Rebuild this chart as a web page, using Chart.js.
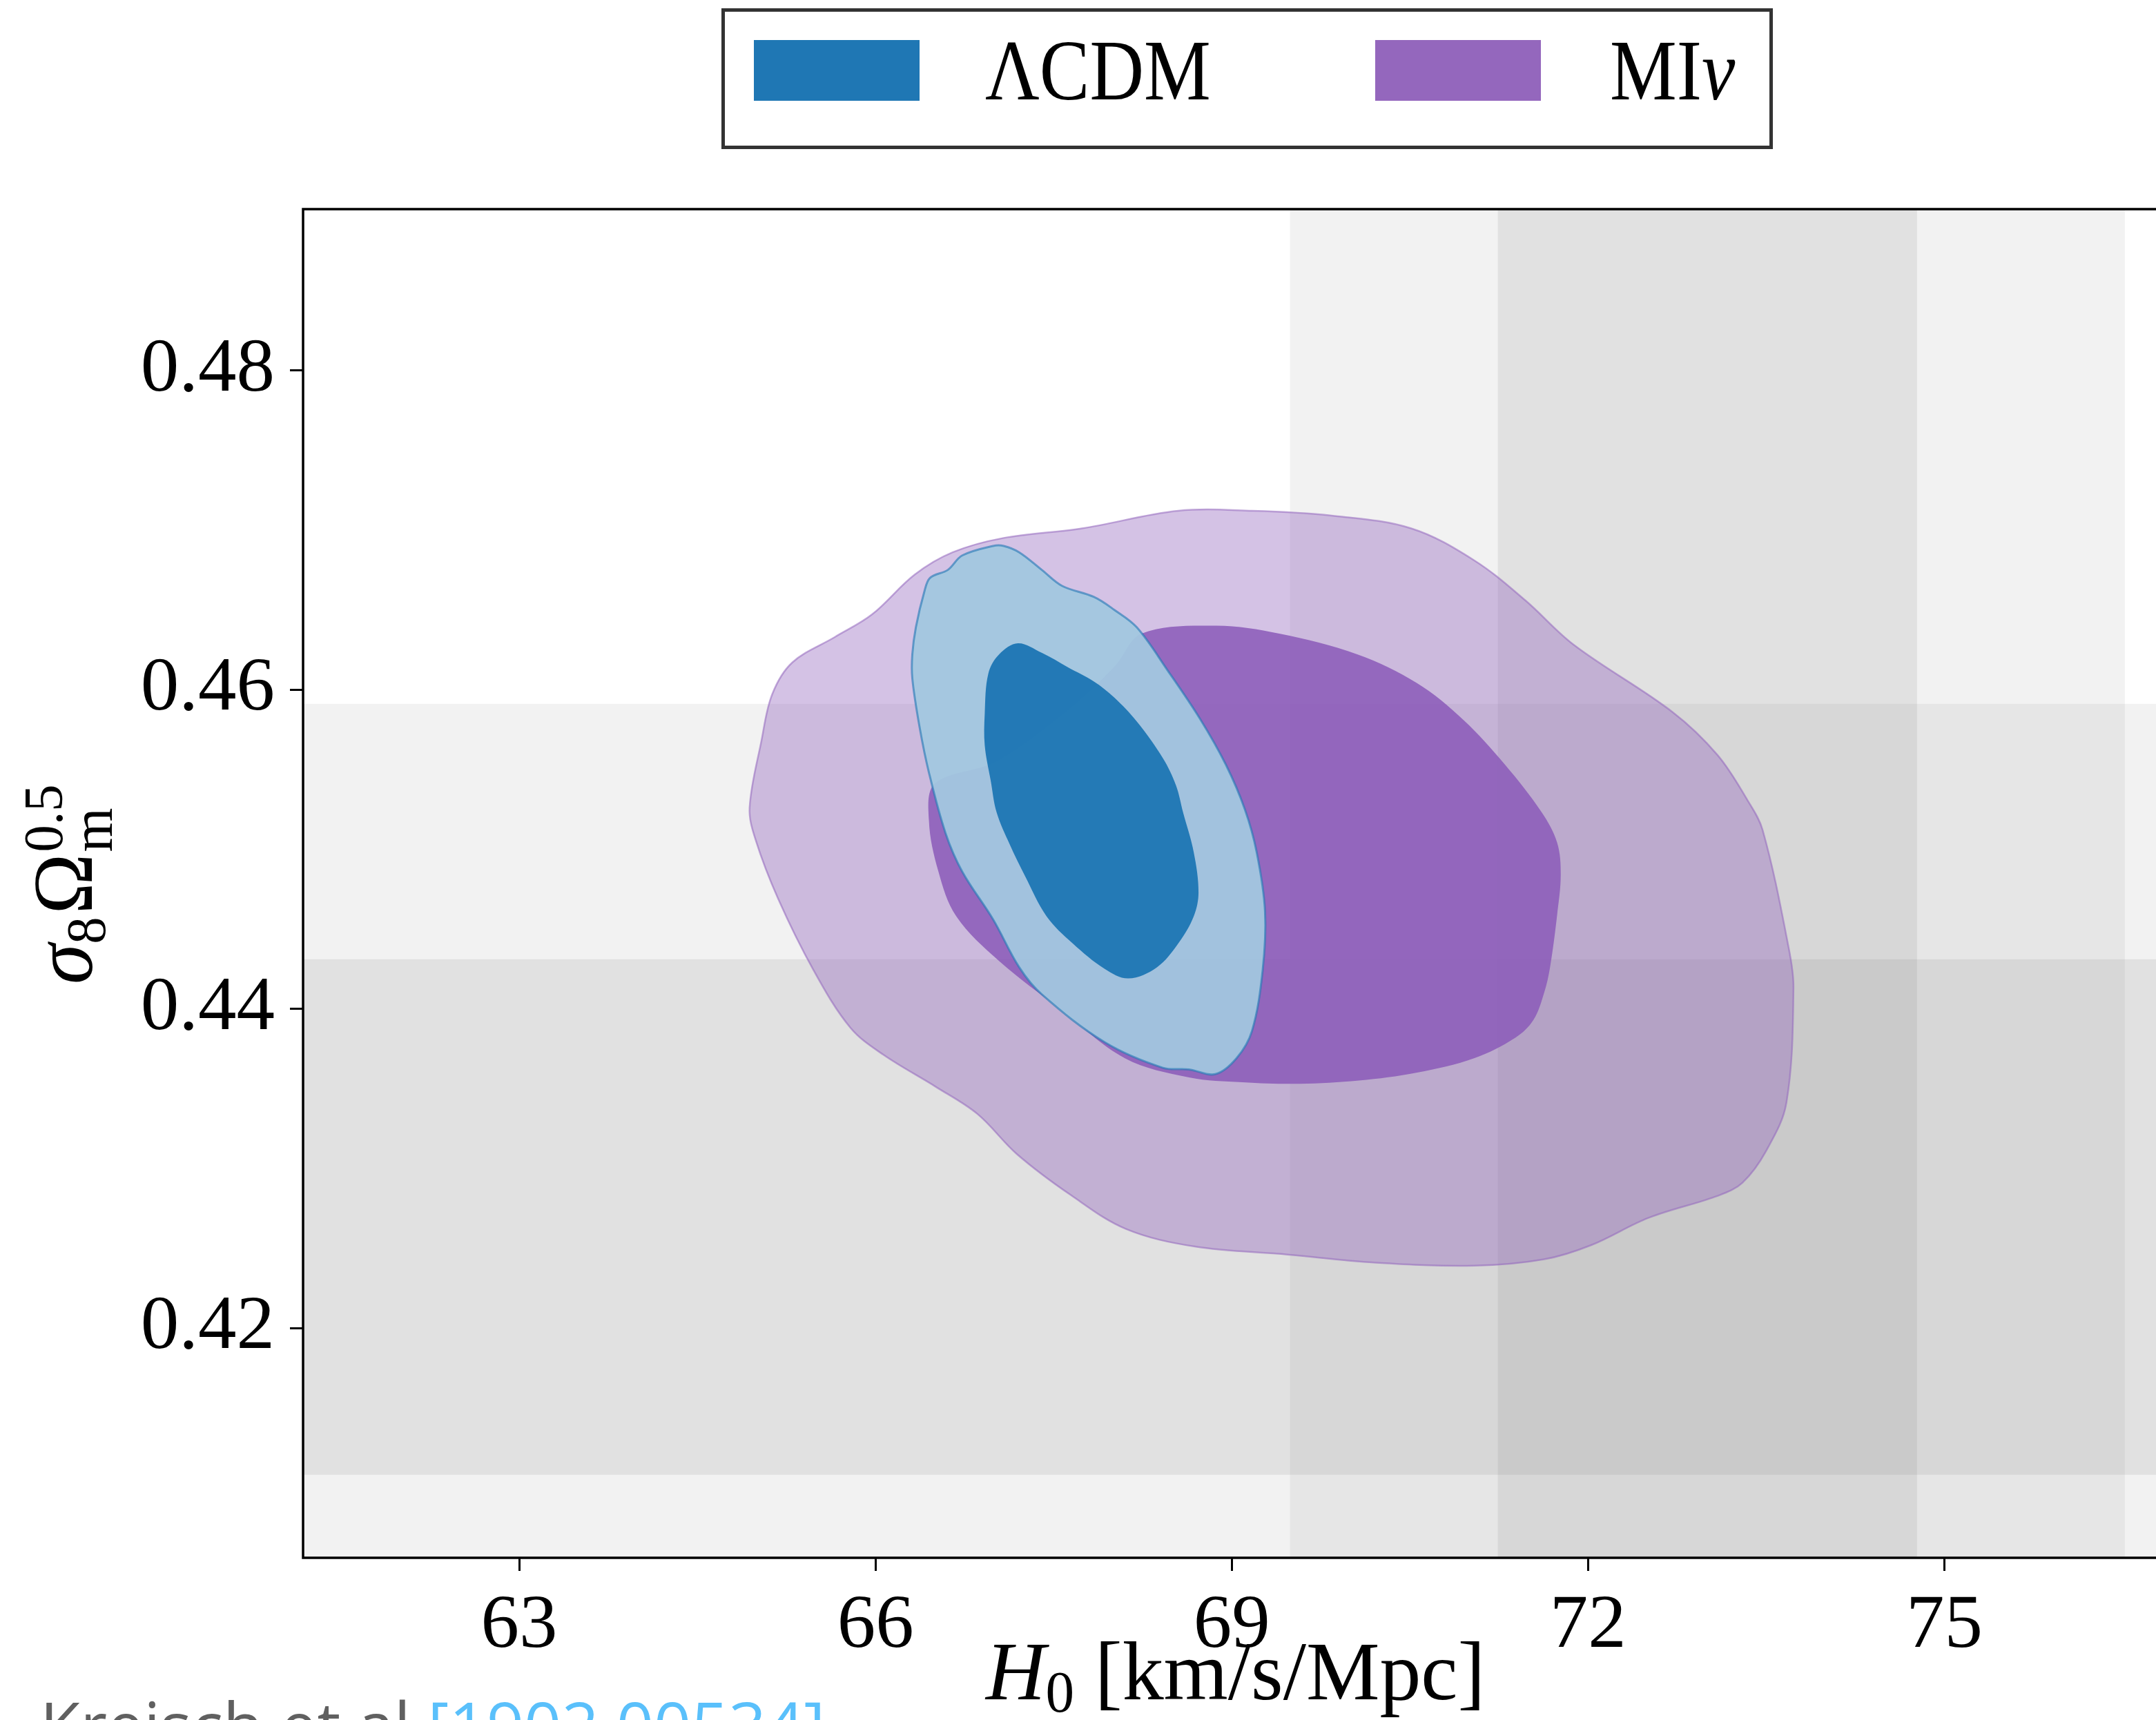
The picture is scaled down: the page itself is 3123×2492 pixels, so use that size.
<!DOCTYPE html>
<html>
<head>
<meta charset="utf-8">
<script src="https://cdn.jsdelivr.net/npm/chart.js@4.4.0/dist/chart.umd.min.js"></script>
<style>
html, body { margin: 0; padding: 0; background: #fff; overflow: hidden; }
#wrap { width: 3123px; height: 2492px; overflow: hidden; position: relative; }
canvas { display: block; }
</style>
</head>
<body>
<div id="wrap"><canvas id="myChart" width="3200" height="2492"></canvas></div>
<script>
// ejes
var xTicks = [63, 66, 69, 72, 75];
var yTicks = [0.42, 0.44, 0.46, 0.48];
var xRange = [61.18, 77.23];
var yRange = [0.4056, 0.4901];

// bandas de fondo (2 sigma, 1 sigma)
var h0Bands = [[69.49, 76.52], [71.24, 74.77]];
var s8Bands = [[0.395, 0.4591], [0.4108, 0.4431]];
var bandAlpha = [0.1, 0.15];

var seriesNames = ['\u039BCDM', 'MI\u03BD'];
var seriesColors = ['#1f77b4', '#9467bd'];

// LCDM 68%
var lcdm68H0 = [67.20, 67.40, 67.62, 67.84, 68.01, 68.20, 68.42, 68.53, 68.59, 68.68, 68.72, 68.68, 68.55, 68.37, 68.13, 67.93, 67.66, 67.44, 67.26, 67.13, 67.02, 66.97, 66.92, 66.92, 66.95, 67.04];
var lcdm68S8 = [0.4629, 0.4623, 0.4614, 0.4605, 0.4595, 0.4580, 0.4557, 0.4540, 0.4523, 0.4498, 0.4473, 0.4458, 0.4441, 0.4426, 0.4419, 0.4425, 0.4441, 0.4458, 0.4483, 0.4503, 0.4523, 0.4543, 0.4565, 0.4585, 0.4610, 0.4622];
// LCDM 95%
var lcdm95H0 = [67.08, 67.21, 67.40, 67.57, 67.84, 68.01, 68.20, 68.46, 68.73, 68.95, 69.11, 69.21, 69.28, 69.26, 69.17, 69.04, 68.86, 68.64, 68.42, 67.93, 67.40, 67.21, 66.99, 66.73, 66.59, 66.45, 66.37, 66.31, 66.31, 66.34, 66.41, 66.46, 66.61, 66.73, 66.99];
var lcdm95S8 = [0.4690, 0.4686, 0.4675, 0.4665, 0.4658, 0.4650, 0.4639, 0.4612, 0.4582, 0.4553, 0.4525, 0.4498, 0.4461, 0.4424, 0.4386, 0.4369, 0.4359, 0.4362, 0.4363, 0.4379, 0.4409, 0.4426, 0.4456, 0.4486, 0.4510, 0.4548, 0.4577, 0.4607, 0.4622, 0.4639, 0.4661, 0.4670, 0.4675, 0.4684, 0.4690];
// MInu 68% (la parte alta izquierda queda tapada por LCDM)
var minu68H0 = [68.24, 68.87, 69.40, 70.06, 70.56, 70.95, 71.30, 71.61, 71.74, 71.77, 71.74, 71.68, 71.63, 71.54, 71.39, 71.04, 70.56, 70.07, 69.57, 69.09, 68.64, 68.10, 67.57, 67.04, 66.68, 66.53, 66.45, 66.50, 67.02, 67.65, 68.02];
var minu68S8 = [0.4635, 0.4640, 0.4635, 0.4622, 0.4604, 0.4581, 0.4553, 0.4523, 0.4504, 0.4484, 0.4459, 0.4426, 0.4410, 0.4393, 0.4382, 0.4369, 0.4360, 0.4355, 0.4353, 0.4354, 0.4357, 0.4369, 0.4399, 0.4430, 0.4458, 0.4486, 0.4518, 0.4541, 0.4555, 0.4589, 0.4615];
// MInu 95%
var minu95H0 = [64.94, 65.04, 65.13, 65.30, 65.66, 65.97, 66.33, 66.65, 67.08, 67.74, 68.55, 69.17, 69.84, 70.51, 71.04, 71.47, 71.88, 72.71, 73.09, 73.34, 73.47, 73.69, 73.73, 73.67, 73.50, 73.30, 73.10, 72.51, 72.03, 71.63, 71.04, 70.20, 69.47, 68.69, 68.11, 67.65, 67.19, 66.86, 66.51, 66.07, 65.79, 65.48, 65.18, 64.99];
var minu95S8 = [0.4526, 0.4568, 0.4597, 0.4617, 0.4633, 0.4647, 0.4672, 0.4686, 0.4695, 0.4701, 0.4712, 0.4712, 0.4709, 0.4701, 0.4681, 0.4656, 0.4628, 0.4586, 0.4559, 0.4531, 0.4512, 0.4438, 0.4413, 0.4341, 0.4311, 0.4291, 0.4283, 0.4269, 0.4252, 0.4243, 0.4239, 0.4241, 0.4246, 0.4251, 0.4262, 0.4283, 0.4309, 0.4334, 0.4351, 0.4371, 0.4388, 0.4424, 0.4469, 0.4506];

var serif = '"Liberation Serif", "DejaVu Serif", serif';

function toPoints(xs, ys) {
    return xs.map(function (x, i) { return {x: x, y: ys[i]}; });
}

function runText(ctx, parts, x0, y0, squash) {
    ctx.save();
    ctx.translate(x0, y0);
    ctx.scale(squash, 1);
    ctx.textAlign = 'left';
    ctx.textBaseline = 'alphabetic';
    var x = 0;
    parts.forEach(function (p) {
        ctx.font = p.font;
        ctx.fillStyle = p.color || '#000';
        ctx.fillText(p.text, x, p.dy || 0);
        if (!p.stack) x += ctx.measureText(p.text).width + (p.gap || 0);
    });
    ctx.restore();
}

// contornos cerrados: la linea vuelve suave al primer punto
var loopPlugin = {
    id: 'cerrar',
    afterDatasetsUpdate: function (chart) {
        chart.getSortedVisibleDatasetMetas().forEach(function (meta) {
            var line = meta.dataset;
            if (!line) return;
            line._loop = true;
            line._fullLoop = true;
            line._pointsUpdated = false;
            line._path = undefined;
            delete line._segments;
        });
    }
};

var bandPlugin = {
    id: 'bandas',
    beforeDatasetsDraw: function (chart) {
        var ctx = chart.ctx, a = chart.chartArea;
        var xs = chart.scales.x, ys = chart.scales.y;
        ctx.save();
        ctx.beginPath();
        ctx.rect(a.left, a.top, a.right - a.left, a.bottom - a.top);
        ctx.clip();
        h0Bands.forEach(function (b, i) {
            var x0 = xs.getPixelForValue(b[0]), x1 = xs.getPixelForValue(b[1]);
            ctx.fillStyle = 'rgba(128,128,128,' + bandAlpha[i] + ')';
            ctx.fillRect(x0, a.top, x1 - x0, a.bottom - a.top);
        });
        s8Bands.forEach(function (b, i) {
            var y0 = ys.getPixelForValue(b[1]), y1 = ys.getPixelForValue(b[0]);
            ctx.fillStyle = 'rgba(128,128,128,' + bandAlpha[i] + ')';
            ctx.fillRect(a.left, y0, a.right - a.left, y1 - y0);
        });
        ctx.restore();
    }
};

var decoPlugin = {
    id: 'decoracion',
    afterDraw: function (chart) {
        var ctx = chart.ctx, a = chart.chartArea;
        ctx.save();
        // marco
        ctx.strokeStyle = '#000';
        ctx.lineWidth = 3.5;
        ctx.strokeRect(a.left, a.top, a.right - a.left, a.bottom - a.top);

        // titulo eje x
        runText(ctx, [
            {text: 'H', font: 'italic 121px ' + serif},
            {text: '0', font: '84px ' + serif, dy: 18, gap: 30},
            {text: '[km/s/Mpc]', font: '121px ' + serif}
        ], 1428, 2462, 0.99);

        // titulo eje y
        ctx.save();
        ctx.translate(133, 1426);
        ctx.rotate(-Math.PI / 2);
        runText(ctx, [
            {text: '\u03C3', font: 'italic 122px ' + serif},
            {text: '8', font: '81px ' + serif, dy: 19, gap: 4},
            {text: '\u03A9', font: '122px ' + serif, gap: 2},
            {text: '0.5', font: '81px ' + serif, dy: -43, stack: true},
            {text: 'm', font: '85px ' + serif, dy: 29}
        ], 0, 0, 0.97);
        ctx.restore();

        // leyenda
        ctx.fillStyle = '#fff';
        ctx.fillRect(1047, 14, 1519, 200);
        ctx.strokeStyle = '#333';
        ctx.lineWidth = 5;
        ctx.strokeRect(1047.5, 14.5, 1518, 199);
        var patchX = [1092, 1992], textX = [1427, 2332];
        seriesNames.forEach(function (name, i) {
            ctx.fillStyle = seriesColors[i];
            ctx.fillRect(patchX[i], 58, 240, 88);
        });
        runText(ctx, [{text: seriesNames[0], font: '125px ' + serif}], textX[0], 144, 0.87);
        runText(ctx, [
            {text: 'MI', font: '125px ' + serif},
            {text: '\u03BD', font: 'italic 125px ' + serif}
        ], textX[1], 144, 0.87);

        // cita
        runText(ctx, [
            {text: 'Kreisch et al ', font: '95px "Open Sans"', color: '#606060'},
            {text: '[1902.00534]', font: '95px "Open Sans"', color: '#5ac0fb'}
        ], 58, 2535, 1);
        ctx.restore();
    }
};

var ctxc = document.getElementById('myChart').getContext('2d');
var chart = new Chart(ctxc, {
    type: 'line',
    data: {
        datasets: [{
            label: seriesNames[0] + ' 68%',
            data: toPoints(lcdm68H0, lcdm68S8),
            backgroundColor: 'rgba(28,117,180,0.94)',
            borderColor: 'rgba(28,117,180,0.94)',
            borderWidth: 0,
            fill: 'shape',
            order: 1
        }, {
            label: seriesNames[0] + ' 95%',
            data: toPoints(lcdm95H0, lcdm95S8),
            backgroundColor: 'rgba(163,200,224,0.94)',
            borderColor: 'rgba(31,119,180,0.6)',
            borderWidth: 3,
            fill: 'shape',
            order: 2
        }, {
            label: seriesNames[1] + ' 68%',
            data: toPoints(minu68H0, minu68S8),
            backgroundColor: 'rgba(140,92,186,0.88)',
            borderColor: 'rgba(140,92,186,0.88)',
            borderWidth: 0,
            fill: 'shape',
            order: 3
        }, {
            label: seriesNames[1] + ' 95%',
            data: toPoints(minu95H0, minu95S8),
            backgroundColor: 'rgba(148,103,189,0.4)',
            borderColor: 'rgba(148,103,189,0.55)',
            borderWidth: 2.5,
            fill: 'shape',
            order: 4
        }]
    },
    options: {
        responsive: false,
        devicePixelRatio: 1,
        animation: false,
        layout: { padding: { top: 303, right: 0, bottom: 0, left: 0 } },
        elements: {
            point: { radius: 0, hoverRadius: 0 },
            line: { tension: 0.35 }
        },
        plugins: {
            legend: { display: false },
            tooltip: { enabled: false }
        },
        scales: {
            x: {
                type: 'linear',
                min: xRange[0],
                max: xRange[1],
                afterFit: function (s) { s.height = 235; },
                afterBuildTicks: function (s) { s.ticks = xTicks.map(function (v) { return {value: v}; }); },
                grid: { drawOnChartArea: false, tickLength: 19, tickWidth: 3, tickColor: '#000' },
                border: { display: false },
                ticks: {
                    font: { family: serif, size: 111 },
                    color: '#000',
                    padding: 14,
                    maxRotation: 0,
                    autoSkip: false,
                    callback: function (v) { return String(v); }
                }
            },
            y: {
                type: 'linear',
                min: yRange[0],
                max: yRange[1],
                afterFit: function (s) { s.width = 439; },
                afterBuildTicks: function (s) { s.ticks = yTicks.map(function (v) { return {value: v}; }); },
                grid: { drawOnChartArea: false, tickLength: 19, tickWidth: 3, tickColor: '#000' },
                border: { display: false },
                ticks: {
                    font: { family: serif, size: 111 },
                    color: '#000',
                    padding: 22,
                    autoSkip: false,
                    callback: function (v) { return v.toFixed(2); }
                }
            }
        }
    },
    plugins: [loopPlugin, bandPlugin, decoPlugin]
});
</script>
</body>
</html>
